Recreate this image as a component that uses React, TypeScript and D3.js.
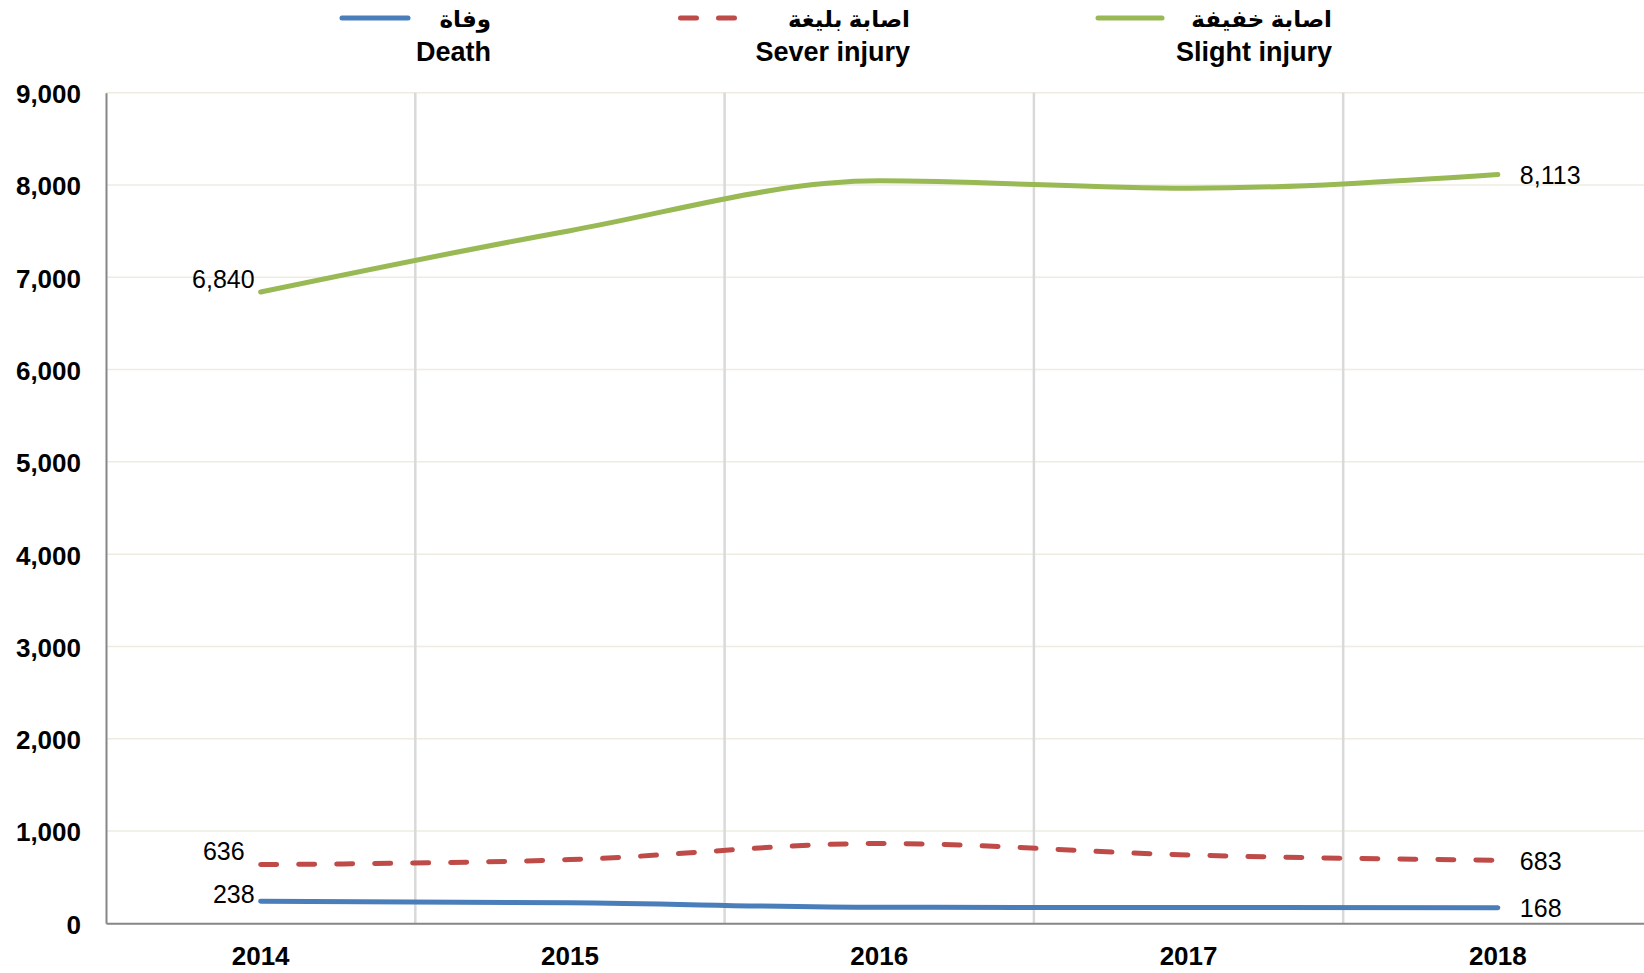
import React, { useEffect, useRef } from 'react';
import * as d3 from 'd3';

const years = ['2014', '2015', '2016', '2017', '2018'];
const death = [238, 222, 173, 172, 168];
const severInjury = [636, 690, 865, 740, 683];
const slightInjury = [6840, 7505, 8045, 7965, 8113];
const yTicks = [0, 1000, 2000, 3000, 4000, 5000, 6000, 7000, 8000, 9000];
const namesEn = ['Death', 'Sever injury', 'Slight injury'];
const namesAr = ['وفاة', 'اصابة بليغة', 'اصابة خفيفة'];

const W = 1644;
const H = 973;
const FONT = "'Liberation Sans', Arial, 'DejaVu Sans', sans-serif";

export default function App() {
  const svgRef = useRef<SVGSVGElement>(null);

  useEffect(() => {
    const svg = d3.select(svgRef.current);
    svg.selectAll('*').remove();

    const left = 106;
    const top = 92.7;
    const bottom = 923.3;

    const x = d3.scaleBand<string>().domain(years).range([left, 1652.5]);
    const y = d3.scaleLinear().domain([0, 9000]).range([bottom, top]);
    const cx = (d: string) => (x(d) ?? 0) + x.bandwidth() / 2;

    // horizontal gridlines
    svg
      .append('g')
      .selectAll('line')
      .data(yTicks.filter(t => t > 0))
      .join('line')
      .attr('x1', left)
      .attr('x2', W)
      .attr('y1', d => y(d))
      .attr('y2', d => y(d))
      .attr('stroke', '#eeece1')
      .attr('stroke-width', 1.5);

    // vertical gridlines between categories
    svg
      .append('g')
      .selectAll('line')
      .data(years.slice(1))
      .join('line')
      .attr('x1', d => x(d) ?? 0)
      .attr('x2', d => x(d) ?? 0)
      .attr('y1', top)
      .attr('y2', bottom)
      .attr('stroke', '#d9d9d9')
      .attr('stroke-width', 2.5);

    const yAxis = d3
      .axisLeft(y)
      .tickValues(yTicks)
      .tickSize(0)
      .tickPadding(25)
      .tickFormat(d => d3.format(',')(d as number));
    const gy = svg.append('g').attr('transform', `translate(${left},0)`).call(yAxis);
    gy.select('.domain').attr('stroke', '#868686').attr('stroke-width', 2);
    gy.selectAll('text')
      .attr('font-family', FONT)
      .attr('font-size', 26)
      .attr('font-weight', 'bold')
      .attr('fill', '#000')
      .attr('dy', '0.38em');

    const xAxis = d3.axisBottom(x).tickSize(0).tickSizeOuter(0).tickPadding(23);
    const gx = svg.append('g').attr('transform', `translate(0,${bottom})`).call(xAxis);
    gx.select('.domain').attr('stroke', '#868686').attr('stroke-width', 2);
    gx.selectAll('text')
      .attr('font-family', FONT)
      .attr('font-size', 26)
      .attr('font-weight', 'bold')
      .attr('fill', '#000');

    const series = [
      { values: death, color: '#4a7ebb', dash: null as string | null },
      { values: severInjury, color: '#be4b48', dash: '16 22' },
      { values: slightInjury, color: '#98b954', dash: null as string | null },
    ];

    const lineGen = d3
      .line<number>()
      .x((_v, i) => cx(years[i]))
      .y(v => y(v))
      .curve(d3.curveMonotoneX);

    svg
      .append('g')
      .selectAll('path')
      .data(series)
      .join('path')
      .attr('d', s => lineGen(s.values))
      .attr('fill', 'none')
      .attr('stroke', s => s.color)
      .attr('stroke-width', 5)
      .attr('stroke-linecap', 'round')
      .attr('stroke-linejoin', 'round')
      .attr('stroke-dasharray', s => s.dash);

    // data labels at first and last points
    const leftDx = [-6, -16, -6];
    const leftDy = [2, -5, -4];
    const rightDy = [9, 10, 9.5];
    const fmt = d3.format(',');
    const labels = svg.append('g').attr('font-family', FONT).attr('font-size', 25).attr('fill', '#000');
    series.forEach((s, i) => {
      const first = s.values[0];
      const last = s.values[s.values.length - 1];
      labels
        .append('text')
        .attr('x', cx(years[0]) + leftDx[i])
        .attr('y', y(first) + leftDy[i])
        .attr('text-anchor', 'end')
        .text(fmt(first));
      labels
        .append('text')
        .attr('x', cx(years[years.length - 1]) + 22)
        .attr('y', y(last) + rightDy[i])
        .attr('text-anchor', 'start')
        .text(fmt(last));
    });

    // legend
    const legendRight = [491, 910, 1332];
    const legendLine = [
      [342, 408],
      [680.5, 736],
      [1098, 1162],
    ];
    const legend = svg.append('g');
    series.forEach((s, i) => {
      legend
        .append('line')
        .attr('x1', legendLine[i][0])
        .attr('x2', legendLine[i][1])
        .attr('y1', 18)
        .attr('y2', 18)
        .attr('stroke', s.color)
        .attr('stroke-width', 5)
        .attr('stroke-linecap', 'round')
        .attr('stroke-dasharray', s.dash);
      legend
        .append('text')
        .attr('x', legendRight[i])
        .attr('y', 27)
        .attr('text-anchor', 'end')
        .attr('font-family', FONT)
        .attr('font-size', 23)
        .attr('font-weight', 'bold')
        .text(namesAr[i]);
      legend
        .append('text')
        .attr('x', legendRight[i])
        .attr('y', 61)
        .attr('text-anchor', 'end')
        .attr('font-family', FONT)
        .attr('font-size', 27)
        .attr('font-weight', 'bold')
        .text(namesEn[i]);
    });
  }, []);

  return (
    <svg
      ref={svgRef}
      width={W}
      height={H}
      style={{ position: 'absolute', left: 0, top: 0, background: '#fff' }}
    />
  );
}
